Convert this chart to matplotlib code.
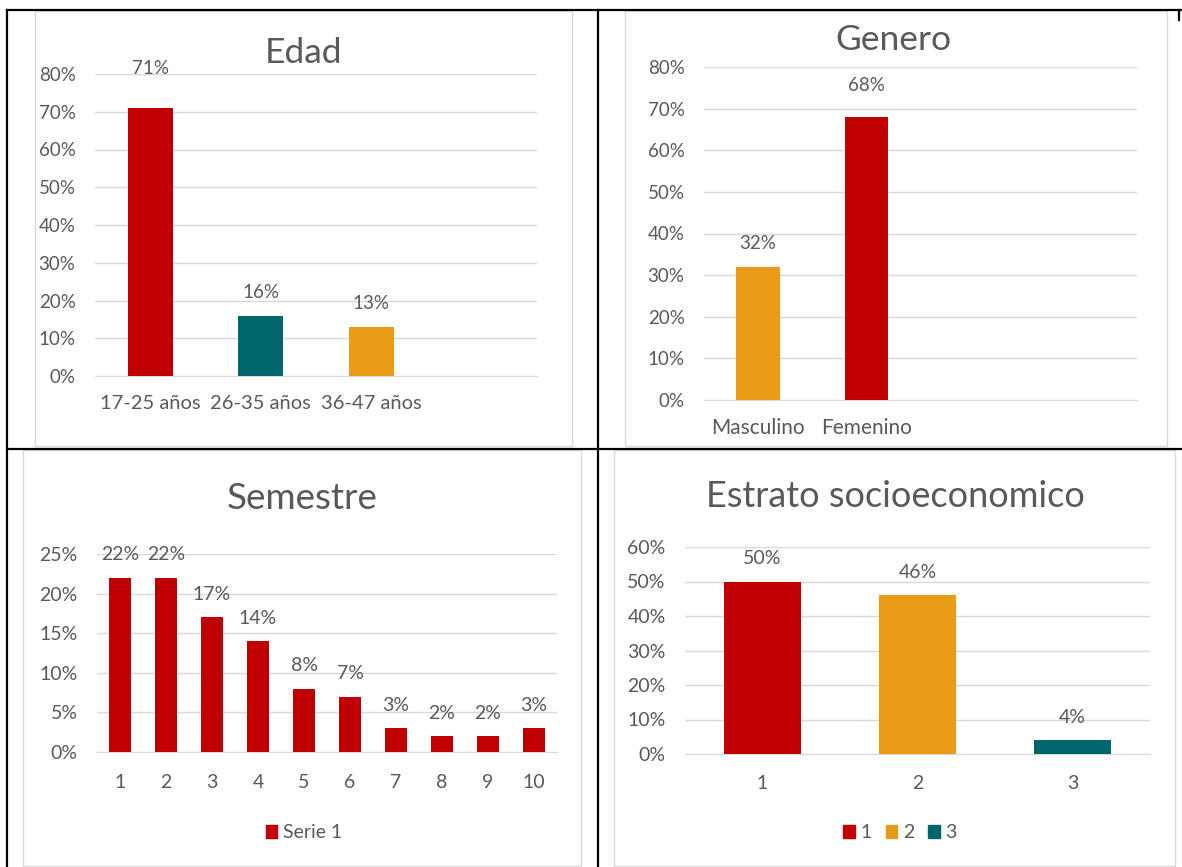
import matplotlib
matplotlib.use('Agg')
import matplotlib.pyplot as plt
from matplotlib.patches import Rectangle
from matplotlib.lines import Line2D
from matplotlib.ticker import PercentFormatter

plt.rcParams['font.family'] = ['Lato', 'DejaVu Sans']

W, H = 1182, 867
TXT = '#595959'
GRID = '#D9D9D9'
RED = '#C00000'
TEAL = '#00666B'
ORANGE = '#E99C17'

edad_cats = ['17-25 años', '26-35 años', '36-47 años']
edad_vals = [0.71, 0.16, 0.13]
edad_colors = [RED, TEAL, ORANGE]

genero_cats = ['Masculino', 'Femenino']
genero_vals = [0.32, 0.68]
genero_colors = [ORANGE, RED]

semestre_cats = ['1', '2', '3', '4', '5', '6', '7', '8', '9', '10']
semestre_vals = [0.22, 0.22, 0.17, 0.14, 0.08, 0.07, 0.03, 0.02, 0.02, 0.03]

estrato_cats = ['1', '2', '3']
estrato_vals = [0.50, 0.46, 0.04]
estrato_colors = [RED, ORANGE, TEAL]

fig = plt.figure(figsize=(W / 100, H / 100), dpi=100)


def fx(x):
    return x / W


def fy(y):
    return 1 - y / H


def frame(x0, y0, x1, y1):
    fig.add_artist(Rectangle((fx(x0), fy(y1)), (x1 - x0) / W, (y1 - y0) / H,
                             transform=fig.transFigure, fill=False,
                             edgecolor=GRID, lw=1))


def rule(x0, y0, x1, y1):
    fig.add_artist(Line2D([fx(x0), fx(x1)], [fy(y0), fy(y1)],
                          transform=fig.transFigure, color='black', lw=1.6))


def panel(box, cats, vals, colors, ymax, step, nslots, width, fs=13.5,
          xfs=14, xpad=14, label_px=23, label_extra=None):
    x0, y0, x1, y1 = box
    ax = fig.add_axes([fx(x0), fy(y1), (x1 - x0) / W, (y1 - y0) / H])
    xs = list(range(len(cats)))
    bars = ax.bar(xs, vals, width=width, color=colors, zorder=3)
    ax.set_xlim(-0.5, nslots - 0.5)
    nt = int(round(ymax / step))
    ax.set_yticks([round(i * step, 4) for i in range(nt + 1)])
    ax.set_ylim(0, ymax)
    ax.yaxis.set_major_formatter(PercentFormatter(1.0, decimals=0))
    ax.set_xticks(xs, cats)
    ax.grid(axis='y', color=GRID, lw=1)
    ax.set_axisbelow(True)
    for s in ['top', 'right', 'left']:
        ax.spines[s].set_visible(False)
    ax.spines['bottom'].set_color(GRID)
    ax.tick_params(length=0, labelcolor=TXT)
    ax.tick_params(axis='y', pad=14, labelsize=fs)
    ax.tick_params(axis='x', pad=xpad, labelsize=xfs)
    ax.patch.set_visible(False)
    extra = label_extra or {}
    for i, (b, v) in enumerate(zip(bars, vals)):
        off = extra.get(i, label_px)
        ax.annotate(f'{round(v * 100)}%', (b.get_x() + b.get_width() / 2, v),
                    xytext=(0, off * 0.72), textcoords='offset points',
                    ha='center', va='center', fontsize=fs, color=TXT)
    return ax


# chart frames
frame(35, 11, 572, 446)
frame(625, 11, 1167, 446)
frame(23, 450, 581, 866)
frame(614, 450, 1175, 866)

# table borders
rule(7, 10, 1182, 10)
rule(7, 10, 7, 867)
rule(598, 10, 598, 867)
rule(7, 449, 1182, 449)
rule(1179, 10, 1179, 20)

# Edad
panel((95, 74, 537, 376), edad_cats, edad_vals, edad_colors,
      0.8, 0.1, 4, 0.41, xfs=14.5, label_extra={0: 39})
fig.text(fx(303), fy(63), 'Edad', ha='center', va='baseline',
         fontsize=25.5, color=TXT)

# Genero
panel((704, 67, 1137, 400), genero_cats, genero_vals, genero_colors,
      0.8, 0.1, 4, 0.40, xfs=15, xpad=13, label_extra={1: 31})
fig.text(fx(893), fy(50), 'Genero', ha='center', va='baseline',
         fontsize=25.5, color=TXT)

# Semestre
panel((97, 554, 557, 752), semestre_cats, semestre_vals, RED,
      0.25, 0.05, 10, 0.48, fs=14, xfs=14, xpad=16)
fig.text(fx(302), fy(509), 'Semestre', ha='center', va='baseline',
         fontsize=26.5, color=TXT)
fig.legend([Rectangle((0, 0), 1, 1, color=RED)], ['Serie 1'],
           loc='center', bbox_to_anchor=(fx(304), fy(833)), frameon=False,
           fontsize=14, handlelength=0.6, handleheight=0.6,
           handletextpad=0.3, labelcolor=TXT)

# Estrato socioeconomico
panel((685, 547, 1150, 754), estrato_cats, estrato_vals, estrato_colors,
      0.6, 0.1, 3, 0.5, fs=14, xfs=14, xpad=15)
fig.text(fx(895), fy(507), 'Estrato socioeconomico', ha='center',
         va='baseline', fontsize=26, color=TXT)
fig.legend([Rectangle((0, 0), 1, 1, color=c) for c in estrato_colors],
           estrato_cats, loc='center', bbox_to_anchor=(fx(900), fy(833)),
           ncol=3, frameon=False, fontsize=14, handlelength=0.6,
           handleheight=0.6, handletextpad=0.3, columnspacing=0.7,
           labelcolor=TXT)

fig.savefig('out.png', dpi=100, facecolor='white')
